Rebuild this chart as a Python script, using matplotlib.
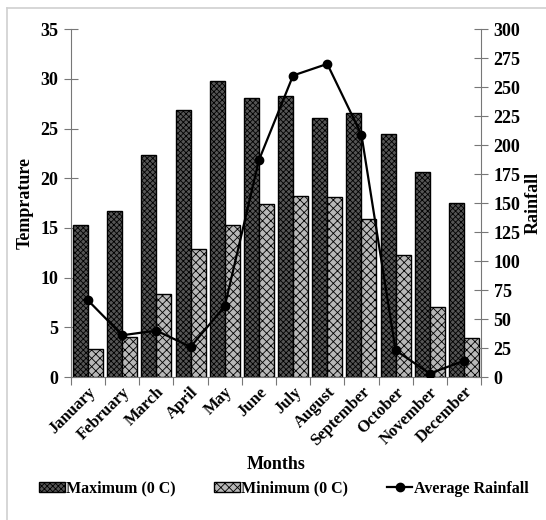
import matplotlib
matplotlib.use("Agg")
import matplotlib.pyplot as plt
import numpy as np
from matplotlib.lines import Line2D
from matplotlib.patches import Patch

months = ["January", "February", "March", "April", "May", "June", "July",
          "August", "September", "October", "November", "December"]
max_temp = [15.3, 16.7, 22.3, 26.9, 29.8, 28.1, 28.3, 26.1, 26.6, 24.4, 20.6, 17.5]
min_temp = [2.8, 4.0, 8.4, 12.9, 15.3, 17.4, 18.2, 18.1, 15.9, 12.3, 7.0, 3.9]
rainfall = [66, 36, 40, 26, 61, 187, 260, 270, 209, 23, 3, 14]

plt.rcParams['font.family'] = ['Liberation Serif', 'DejaVu Serif']
plt.rcParams['font.weight'] = 'bold'
plt.rcParams['hatch.linewidth'] = 0.6

MAX_FC, MAX_H = '#555555', 'xxxxxx'
MIN_FC, MIN_H = '#b8b8b8', 'xxxx'

fig = plt.figure(figsize=(5.46, 5.20), dpi=100)
ax = fig.add_axes([0.130, 0.275, 0.751, 0.669])
ax2 = ax.twinx()

x = np.arange(len(months))
w = 0.44
ax.bar(x - w / 2, max_temp, w, facecolor=MAX_FC, edgecolor='black',
       hatch=MAX_H, linewidth=1.0, zorder=2)
ax.bar(x + w / 2, min_temp, w, facecolor=MIN_FC, edgecolor='black',
       hatch=MIN_H, linewidth=1.0, zorder=2)
ax2.plot(x, rainfall, color='black', lw=1.6, marker='o', ms=6, zorder=3)

ax.set_xlim(-0.5, 11.5)
ax.set_ylim(0, 35)
ax2.set_ylim(0, 300)
ax.set_yticks(np.arange(0, 36, 5))
ax2.set_yticks(np.arange(0, 301, 25))

ax.set_xticks(np.arange(-0.5, 12, 1))
ax.set_xticklabels([])
ax.set_xticks(x, minor=True)
ax.set_xticklabels(months, minor=True, rotation=45, ha='right',
                   rotation_mode='anchor', fontsize=12, fontweight='bold')
ax.tick_params(axis='x', which='minor', length=0, pad=5)
ax.tick_params(axis='x', which='major', length=6, direction='out', color='#777777')

for a in (ax, ax2):
    a.spines['top'].set_visible(False)
    for s in a.spines.values():
        s.set_color('#777777')
ax.spines['right'].set_visible(False)
ax2.spines['left'].set_visible(False)
ax2.spines['bottom'].set_visible(False)

ax.tick_params(axis='y', direction='inout', length=10, color='#777777',
               labelsize=13, pad=4)
ax2.tick_params(axis='y', direction='inout', length=10, color='#777777',
                labelsize=13, pad=4)
for lbl in ax.get_yticklabels() + ax2.get_yticklabels():
    lbl.set_fontweight('bold')

ax.set_ylabel('Temprature', fontsize=13, fontweight='bold', labelpad=5)
ax2.set_ylabel('Rainfall', fontsize=13, fontweight='bold', labelpad=3)
ax.set_xlabel('Months', fontsize=13, fontweight='bold', labelpad=5)

handles = [Patch(facecolor=MAX_FC, edgecolor='black', hatch=MAX_H, label='Maximum (0 C)'),
           Patch(facecolor=MIN_FC, edgecolor='black', hatch=MIN_H, label='Minimum (0 C)'),
           Line2D([0], [0], color='black', lw=1.6, marker='o', ms=6, label='Average Rainfall')]
fig.legend(handles=handles, loc='center', bbox_to_anchor=(0.52, 0.06), ncol=3,
           frameon=False, handlelength=1.6, handleheight=0.6, handletextpad=0.1,
           columnspacing=2.4, prop={'weight': 'bold', 'size': 11.5})

fig.add_artist(Line2D([7 / 546, 1], [1 - 8 / 520, 1 - 8 / 520], transform=fig.transFigure,
                      color='#d0d0d0', lw=1.2))
fig.add_artist(Line2D([7 / 546, 7 / 546], [0, 1 - 8 / 520], transform=fig.transFigure,
                      color='#d0d0d0', lw=1.2))

fig.savefig('out.png', dpi=100)
